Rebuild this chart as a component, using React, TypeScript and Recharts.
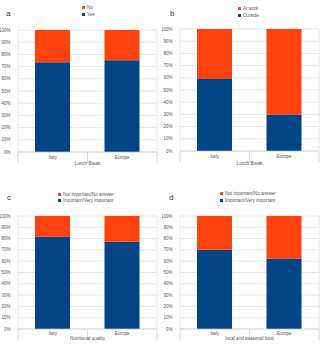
import { BarChart, Bar, XAxis, YAxis, CartesianGrid } from 'recharts'

const categories = ['Italy', 'Europe']
const yTicks = [0, 10, 20, 30, 40, 50, 60, 70, 80, 90, 100]
const xTicks = [0, 0.5, 1, 1.5, 2]

const lunchYes = [73.5, 75.3]
const lunchNo = [26.5, 24.7]
const lunchOutside = [59, 30]
const lunchAtWork = [41, 70]
const nutritionImportant = [81.7, 77.3]
const nutritionNot = [18.3, 22.7]
const localImportant = [70.2, 62.3]
const localNot = [29.8, 37.7]

const BLUE = '#004586'
const ORANGE = '#ff420e'
const FONT = '"Liberation Sans", Arial, sans-serif'
const TEXT = '#555'

interface PanelProps {
  letter: string
  letterPos: [number, number]
  lowerName: string
  upperName: string
  lower: number[]
  upper: number[]
  title: string
  top: number
  axisY: number
  left: number
  right: number
  legendPos: [number, number]
  titleOffset: number
  labelGap: number
}

// integer ticks = separators between categories, half ticks = category names
function SepTick(props: any) {
  const { x, y, payload, labelGap } = props
  const v = payload.value
  if (Number.isInteger(v)) {
    return <line x1={x} x2={x} y1={y} y2={y + 11} stroke="#c8c8c8" strokeWidth={0.7} />
  }
  return (
    <text x={x} y={y + labelGap} textAnchor="middle" fontSize={4.6} fill={TEXT} fontFamily={FONT}>
      {categories[v - 0.5]}
    </text>
  )
}

function Panel(p: PanelProps) {
  const W = 162
  const H = 174
  const data = categories.map((name, i) => ({ pos: i + 0.5, name, lower: p.lower[i], upper: p.upper[i] }))
  const legendItems = [
    { name: p.upperName, color: ORANGE },
    { name: p.lowerName, color: BLUE },
  ]
  return (
    <div style={{ position: 'relative', width: W, height: H }}>
      <div style={{ position: 'absolute', left: p.letterPos[0], top: p.letterPos[1], fontSize: 8, fontFamily: FONT, color: '#333', lineHeight: 1 }}>
        {p.letter}
      </div>
      <div style={{ position: 'absolute', left: p.legendPos[0], top: p.legendPos[1], zIndex: 2 }}>
        {legendItems.map((it) => (
          <div key={it.name} style={{ display: 'flex', alignItems: 'center', height: 6.5, fontSize: 4.6, fontFamily: FONT, color: TEXT, whiteSpace: 'nowrap' }}>
            <span style={{ display: 'inline-block', width: 3, height: 3, background: it.color, marginRight: 2 }} />
            {it.name}
          </div>
        ))}
      </div>
      <BarChart width={W} height={H} data={data} margin={{ top: p.top, right: W - p.right, bottom: 0, left: 0 }}>
        <CartesianGrid stroke="#dcdcdc" strokeWidth={0.7} verticalPoints={[p.left, p.right]} />
        <XAxis
          dataKey="pos"
          type="number"
          domain={[0, 2]}
          ticks={xTicks}
          interval={0}
          height={H - p.axisY}
          tickSize={0}
          tickMargin={0}
          tickLine={false}
          axisLine={{ stroke: '#c8c8c8', strokeWidth: 0.7 }}
          tick={<SepTick labelGap={p.labelGap} />}
          label={{ value: p.title, position: 'insideBottom', offset: p.titleOffset, fontSize: 4.6, fill: TEXT, fontFamily: FONT }}
        />
        <YAxis
          width={p.left}
          domain={[0, 100]}
          ticks={yTicks}
          interval={0}
          axisLine={false}
          tickLine={false}
          tickMargin={1.5}
          tickFormatter={(v: number) => `${v}%`}
          tick={{ fontSize: 4.5, fill: TEXT, fontFamily: FONT }}
        />
        <Bar dataKey="lower" name={p.lowerName} stackId="s" fill={BLUE} barSize={35} isAnimationActive={false} />
        <Bar dataKey="upper" name={p.upperName} stackId="s" fill={ORANGE} barSize={35} isAnimationActive={false} />
      </BarChart>
    </div>
  )
}

export default function App() {
  return (
    <div style={{ position: 'absolute', left: 0, top: 0, width: 325, height: 348, background: '#fff' }}>
      <div style={{ position: 'absolute', left: 0, top: 0 }}>
        <Panel letter="a" letterPos={[6, 10]} lowerName="Yes" upperName="No" lower={lunchYes} upper={lunchNo}
          title="Lunch Break" top={30} axisY={152} left={18} right={157} legendPos={[82, 4.5]} titleOffset={9} labelGap={7} />
      </div>
      <div style={{ position: 'absolute', left: 162, top: 0 }}>
        <Panel letter="b" letterPos={[8, 10]} lowerName="Outside" upperName="At work" lower={lunchOutside} upper={lunchAtWork}
          title="Lunch Break" top={29} axisY={151} left={18} right={157} legendPos={[76, 5.5]} titleOffset={9} labelGap={7} />
      </div>
      <div style={{ position: 'absolute', left: 0, top: 174 }}>
        <Panel letter="c" letterPos={[7, 20]} lowerName="Important/Very important" upperName="Not important/No answer" lower={nutritionImportant} upper={nutritionNot}
          title="Nutritional quality" top={42} axisY={155} left={18} right={157} legendPos={[58, 17]} titleOffset={7.7} labelGap={6.3} />
      </div>
      <div style={{ position: 'absolute', left: 162, top: 174 }}>
        <Panel letter="d" letterPos={[7, 20]} lowerName="Important/Very important" upperName="Not important/No answer" lower={localImportant} upper={localNot}
          title="local and seasonal food" top={42} axisY={155} left={18} right={157} legendPos={[58, 16.5]} titleOffset={7.7} labelGap={6.3} />
      </div>
    </div>
  )
}
